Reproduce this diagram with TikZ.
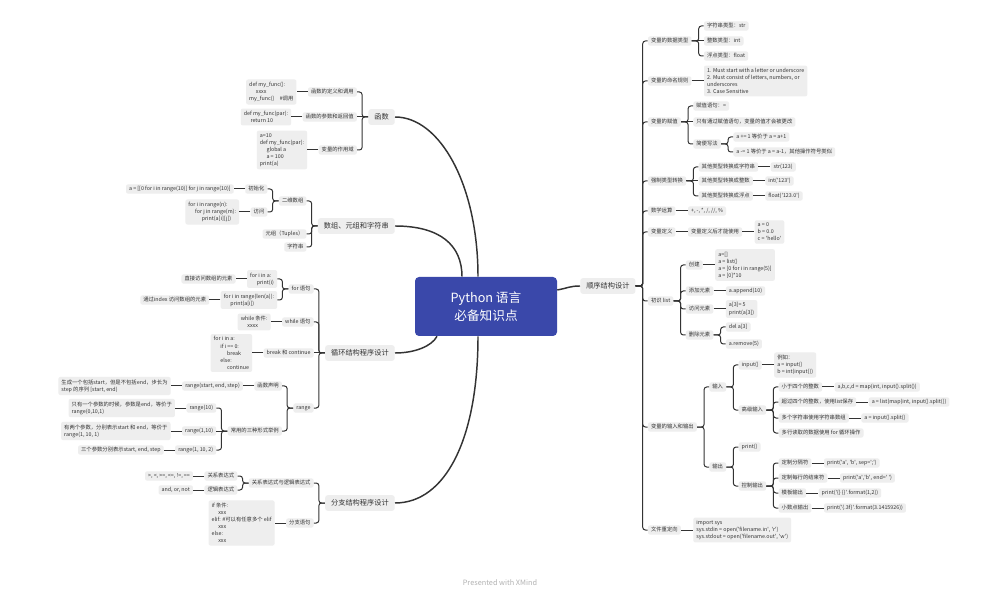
\documentclass[tikz,border=0pt]{standalone}
\usepackage{fontspec}
\setmainfont{Noto Sans CJK SC}
\definecolor{bxc}{HTML}{EEEEEE}
\definecolor{lnc}{HTML}{333333}
\definecolor{txc}{HTML}{333333}
\definecolor{cen}{RGB}{58,72,170}
\newcommand\sq{\textquotesingle}
\newcommand\myind{\hspace*{5pt}}
\newcommand\cR[2]{\draw[lnk] (#2.west) [rounded corners=2pt] -| ([xshift=5.25pt]#1.east) [sharp corners] -- (#1.east);}
\newcommand\sR[2]{\draw[lnk] (#1.east) -- (#2.west);}
\newcommand\cL[2]{\draw[lnk] (#2.east) [rounded corners=2pt] -| ([xshift=-4.5pt]#1.west) [sharp corners] -- (#1.west);}
\newcommand\sL[2]{\draw[lnk] (#1.west) -- (#2.east);}
\tikzset{
 lnk/.style={draw=lnc, line width=0.75pt},
 mainln/.style={draw=lnc, line width=1.1pt},
 bx/.style={fill=bxc, rounded corners=1.5pt, text=txc, font=\fontsize{4}{5.3}\selectfont, inner xsep=2.3pt, inner ysep=1.3pt, text height=3.4pt, text depth=0.9pt},
 ml/.style={align=left, text height={}, text depth={}, inner ysep=2pt},
 lone/.style={fill=bxc, rounded corners=2pt, text=txc, font=\fontsize{5.4}{6.5}\selectfont, inner xsep=4.5pt, inner ysep=3pt, text height=4.6pt, text depth=1.2pt},
 rt/.style={anchor=west, xshift=9pt},
 lt/.style={anchor=east, xshift=-8.25pt},
 rootst/.style={fill=cen, rounded corners=3pt, minimum width=106.5pt, minimum height=44.25pt, text=white, font=\fontsize{9.5}{13.5}\selectfont, align=center, inner sep=0pt},
}
\begin{document}
\begin{tikzpicture}[x=0.75pt,y=-0.75pt]
\fill[white] (0,0) rectangle (1000,595);
\useasboundingbox (0,0) rectangle (1000,595);

\node[rootst] (root) at (486,306.5) {Python 语言\\必备知识点};

% ---------------- left: 函数
\node[lone, anchor=east] (f) at (395,117) {函数};
\node[bx, lt] (f1) at (f.west |- 0,92) {函数的定义和调用};
\node[bx, lt] (f2) at (f.west |- 0,117) {函数的参数和返回值};
\node[bx, lt] (f3) at (f.west |- 0,150) {变量的作用域};
\node[bx, ml, lt] (f1a) at (f1.west |- 0,92) {def my\_func():\\\myind xxxx\\my\_func()\hspace{4pt}\#调用};
\node[bx, ml, lt] (f2a) at (f2.west |- 0,117) {def my\_func(par):\\\myind return 10};
\node[bx, ml, lt] (f3a) at (f3.west |- 0,150) {a=10\\def my\_func(par):\\\myind global a\\\myind a = 100\\print(a)};
\cL{f}{f1} \sL{f}{f2} \cL{f}{f3} \sL{f1}{f1a} \sL{f2}{f2a} \sL{f3}{f3a}

% ---------------- left: 数组
\node[lone, anchor=east] (s) at (395,226) {数组、元组和字符串};
\node[bx, lt] (s1) at (s.west |- 0,201) {二维数组};
\node[bx, lt] (s2) at (s.west |- 0,234) {元组（Tuples）};
\node[bx, lt] (s3) at (s.west |- 0,247) {字符串};
\node[bx, lt] (s11) at (s1.west |- 0,189) {初始化};
\node[bx, lt] (s12) at (s1.west |- 0,212) {访问};
\node[bx, lt] (s11a) at (s11.west |- 0,189) {a = [[0 for i in range(10)] for j in range(10)]};
\node[bx, ml, lt] (s12a) at (s12.west |- 0,212) {for i in range(n):\\\myind for j in range(m):\\\myind\myind print(a[i][j])};
\cL{s}{s1} \cL{s}{s2} \cL{s}{s3} \cL{s1}{s11} \cL{s1}{s12} \sL{s11}{s11a} \sL{s12}{s12a}

% ---------------- left: 循环
\node[lone, anchor=east] (xh) at (395,353) {循环结构程序设计};
\node[bx, lt] (x1) at (xh.west |- 0,289) {for 语句};
\node[bx, lt] (x2) at (xh.west |- 0,322) {while 语句};
\node[bx, lt] (x3) at (xh.west |- 0,353) {break 和 continue};
\node[bx, lt] (x4) at (xh.west |- 0,408) {range};
\node[bx, ml, lt] (x11) at (x1.west |- 0,279) {for i in a:\\\myind print(i)};
\node[bx, ml, lt] (x12) at (x1.west |- 0,300) {for i in range(len(a)):\\\myind print(a[i])};
\node[bx, lt] (x111) at (x11.west |- 0,279) {直接访问数组的元素};
\node[bx, lt] (x121) at (x12.west |- 0,300) {通过index 访问数组的元素};
\node[bx, ml, lt] (x2a) at (x2.west |- 0,322) {while 条件:\\\myind xxxx};
\node[bx, ml, lt] (x3a) at (x3.west |- 0,353) {for i in a:\\\myind if i == 0:\\\myind\myind break\\\myind else:\\\myind\myind continue};
\node[bx, lt] (x41) at (x4.west |- 0,386) {函数声明};
\node[bx, lt] (x42) at (x4.west |- 0,431) {常用的三种形式举例};
\node[bx, lt] (x411) at (x41.west |- 0,386) {range(start, end, step)};
\node[bx, ml, lt] (x412) at (x411.west |- 0,386) {生成一个包括start，但是不包括end，步长为\\step 的序列 [start, end)};
\node[bx, lt] (x421) at (x42.west |- 0,408) {range(10)};
\node[bx, lt] (x422) at (x42.west |- 0,431) {range(1,10)};
\node[bx, lt] (x423) at (x42.west |- 0,450) {range(1, 10, 2)};
\node[bx, ml, lt] (x421a) at (x421.west |- 0,408) {只有一个参数的时候，参数是end，等价于\\range(0,10,1)};
\node[bx, ml, lt] (x422a) at (x422.west |- 0,431) {有两个参数，分别表示start 和 end，等价于\\range(1, 10, 1)};
\node[bx, lt] (x423a) at (x423.west |- 0,450) {三个参数分别表示start, end, step};
\cL{xh}{x1} \cL{xh}{x2} \sL{xh}{x3} \cL{xh}{x4}
\cL{x1}{x11} \cL{x1}{x12} \sL{x11}{x111} \sL{x12}{x121}
\sL{x2}{x2a} \sL{x3}{x3a}
\cL{x4}{x41} \cL{x4}{x42} \sL{x41}{x411} \sL{x411}{x412}
\cL{x42}{x421} \sL{x42}{x422} \cL{x42}{x423}
\sL{x421}{x421a} \sL{x422}{x422a} \sL{x423}{x423a}

% ---------------- left: 分支
\node[lone, anchor=east] (fz) at (395,503) {分支结构程序设计};
\node[bx, lt] (z1) at (fz.west |- 0,483) {关系表达式与逻辑表达式};
\node[bx, lt] (z2) at (fz.west |- 0,523) {分支语句};
\node[bx, lt] (z11) at (z1.west |- 0,476) {关系表达式};
\node[bx, lt] (z12) at (z1.west |- 0,490) {逻辑表达式};
\node[bx, lt] (z11a) at (z11.west |- 0,476) {>, <, >=, <=, !=, ==};
\node[bx, lt] (z12a) at (z12.west |- 0,490) {and, or, not};
\node[bx, ml, lt] (z2a) at (z2.west |- 0,523) {if 条件:\\\myind xxx\\elif: \#可以有任意多个 elif\\\myind xxx\\else:\\\myind xxx};
\cL{fz}{z1} \cL{fz}{z2} \cL{z1}{z11} \cL{z1}{z12} \sL{z11}{z11a} \sL{z12}{z12a} \sL{z2}{z2a}

% ---------------- right: 顺序结构设计
\node[lone, anchor=west] (sx) at (580,286) {顺序结构设计};
\node[bx, rt] (a1) at (sx.east |- 0,41) {变量的数据类型};
\node[bx, rt] (a2) at (sx.east |- 0,81) {变量的命名规则};
\node[bx, rt] (a3) at (sx.east |- 0,122) {变量的赋值};
\node[bx, rt] (a4) at (sx.east |- 0,181) {强制类型转换};
\node[bx, rt] (a5) at (sx.east |- 0,211) {数学运算};
\node[bx, rt] (a6) at (sx.east |- 0,232) {变量定义};
\node[bx, rt] (a7) at (sx.east |- 0,301) {初识 list};
\node[bx, rt] (a8) at (sx.east |- 0,427) {变量的输入和输出};
\node[bx, rt] (a9) at (sx.east |- 0,530) {文件重定向};
\cR{sx}{a1} \cR{sx}{a2} \cR{sx}{a3} \cR{sx}{a4} \cR{sx}{a5} \cR{sx}{a6} \cR{sx}{a7} \cR{sx}{a8} \cR{sx}{a9}

\node[bx, rt] (a11) at (a1.east |- 0,26) {字符串类型：str};
\node[bx, rt] (a12) at (a1.east |- 0,41) {整数类型：int};
\node[bx, rt] (a13) at (a1.east |- 0,56) {浮点类型：float};
\cR{a1}{a11} \sR{a1}{a12} \cR{a1}{a13}

\node[bx, ml, rt] (a2a) at (a2.east |- 0,81) {1. Must start with a letter or underscore\\2. Must consist of letters, numbers, or\\underscores\\3. Case Sensitive};
\sR{a2}{a2a}

\node[bx, rt] (a31) at (a3.east |- 0,106) {赋值语句：=};
\node[bx, rt] (a32) at (a3.east |- 0,122) {只有通过赋值语句，变量的值才会被更改};
\node[bx, rt] (a33) at (a3.east |- 0,144) {简便写法};
\node[bx, rt] (a331) at (a33.east |- 0,137) {a += 1 等价于 a = a+1};
\node[bx, rt] (a332) at (a33.east |- 0,152) {a -= 1 等价于 a = a-1，其他操作符号类似};
\cR{a3}{a31} \sR{a3}{a32} \cR{a3}{a33} \cR{a33}{a331} \cR{a33}{a332}

\node[bx, rt] (a41) at (a4.east |- 0,167) {其他类型转换成字符串};
\node[bx, rt] (a42) at (a4.east |- 0,181) {其他类型转换成整数};
\node[bx, rt] (a43) at (a4.east |- 0,196) {其他类型转换成浮点};
\node[bx, rt] (a41a) at (a41.east |- 0,167) {str(123)};
\node[bx, rt] (a42a) at (a42.east |- 0,181) {int(\sq123\sq)};
\node[bx, rt] (a43a) at (a43.east |- 0,196) {float(\sq123.0\sq)};
\cR{a4}{a41} \sR{a4}{a42} \cR{a4}{a43} \sR{a41}{a41a} \sR{a42}{a42a} \sR{a43}{a43a}

\node[bx, rt] (a5a) at (a5.east |- 0,211) {+, -, *, /, //, \%};
\sR{a5}{a5a}

\node[bx, rt] (a61) at (a6.east |- 0,232) {变量定义后才能使用};
\node[bx, ml, rt] (a61a) at (a61.east |- 0,232) {a = 0\\b = 0.0\\c = \sq hello\sq};
\sR{a6}{a61} \sR{a61}{a61a}

\node[bx, rt] (a71) at (a7.east |- 0,265) {创建};
\node[bx, rt] (a72) at (a7.east |- 0,291) {添加元素};
\node[bx, rt] (a73) at (a7.east |- 0,309) {访问元素};
\node[bx, rt] (a74) at (a7.east |- 0,335) {删除元素};
\node[bx, ml, rt] (a71a) at (a71.east |- 0,265) {a=[]\\a = list()\\a = [0 for i in range(5)]\\a = [0]*10};
\node[bx, rt] (a72a) at (a72.east |- 0,291) {a.append(10)};
\node[bx, ml, rt] (a73a) at (a73.east |- 0,309) {a[3]= 5\\print(a[3])};
\node[bx, rt] (a741) at (a74.east |- 0,327) {del a[3]};
\node[bx, rt] (a742) at (a74.east |- 0,344) {a.remove(5)};
\cR{a7}{a71} \cR{a7}{a72} \cR{a7}{a73} \cR{a7}{a74}
\sR{a71}{a71a} \sR{a72}{a72a} \sR{a73}{a73a} \cR{a74}{a741} \cR{a74}{a742}

\node[bx, rt] (a81) at (a8.east |- 0,387) {输入};
\node[bx, rt] (a82) at (a8.east |- 0,467) {输出};
\node[bx, rt] (a811) at (a81.east |- 0,365) {input()};
\node[bx, rt] (a812) at (a81.east |- 0,410) {高级输入};
\node[bx, ml, rt] (a811a) at (a811.east |- 0,365) {例如：\\a = input()\\b = int(input())};
\node[bx, rt] (b1) at (a812.east |- 0,387) {小于四个的整数};
\node[bx, rt] (b2) at (a812.east |- 0,402) {超过四个的整数，使用list保存};
\node[bx, rt] (b3) at (a812.east |- 0,418) {多个字符串使用字符串数组};
\node[bx, rt] (b4) at (a812.east |- 0,433) {多行读取的数据使用 for 循环操作};
\node[bx, rt] (b1a) at (b1.east |- 0,387) {a,b,c,d = map(int, input().split())};
\node[bx, rt] (b2a) at (b2.east |- 0,402) {a = list(map(int, input().split())};
\node[bx, rt] (b3a) at (b3.east |- 0,418) {a = input().split()};
\cR{a8}{a81} \cR{a8}{a82} \cR{a81}{a811} \cR{a81}{a812} \sR{a811}{a811a}
\cR{a812}{b1} \cR{a812}{b2} \cR{a812}{b3} \cR{a812}{b4}
\sR{b1}{b1a} \sR{b2}{b2a} \sR{b3}{b3a}

\node[bx, rt] (a821) at (a82.east |- 0,447) {print()};
\node[bx, rt] (a822) at (a82.east |- 0,486) {控制输出};
\node[bx, rt] (c1) at (a822.east |- 0,463) {定制分隔符};
\node[bx, rt] (c2) at (a822.east |- 0,478) {定制每行的结束符};
\node[bx, rt] (c3) at (a822.east |- 0,493) {模板输出};
\node[bx, rt] (c4) at (a822.east |- 0,508) {小数点输出};
\node[bx, rt] (c1a) at (c1.east |- 0,463) {print(\sq a\sq, \sq b\sq, sep=\sq;\sq)};
\node[bx, rt] (c2a) at (c2.east |- 0,478) {print(\sq a\sq,\sq b\sq, end=\sq\ \sq)};
\node[bx, rt] (c3a) at (c3.east |- 0,493) {print(\sq\{\} \{\}\sq.format(1,2))};
\node[bx, rt] (c4a) at (c4.east |- 0,508) {print(\sq\{.3f\}\sq.format(3.1415926))};
\cR{a82}{a821} \cR{a82}{a822}
\cR{a822}{c1} \cR{a822}{c2} \cR{a822}{c3} \cR{a822}{c4}
\sR{c1}{c1a} \sR{c2}{c2a} \sR{c3}{c3a} \sR{c4}{c4a}

\node[bx, ml, rt] (a9a) at (a9.east |- 0,530) {import sys\\sys.stdin = open(\sq filename.in\sq, \sq r\sq)\\sys.stdout = open(\sq filename.out\sq, \sq w\sq)};
\sR{a9}{a9a}

% ---------------- main curves
\draw[mainln] (f.east) .. controls (440,117) and (478,185) .. (478,0 |- root.north);
\draw[mainln] (s.east) .. controls (440,226) and (462,245) .. (462,0 |- root.north);
\draw[mainln] (xh.east) .. controls (415,353) and (432,346) .. (437,0 |- root.south);
\draw[mainln] (fz.east) .. controls (445,503) and (478,440) .. (478,0 |- root.south);
\draw[mainln] (root.east |- 0,290) .. controls (568,288) and (570,286) .. (sx.west);

\node[text=black!30, font=\fontsize{5.5}{6}\selectfont] (ft) at (500,583) {Presented with XMind};
\end{tikzpicture}
\end{document}
